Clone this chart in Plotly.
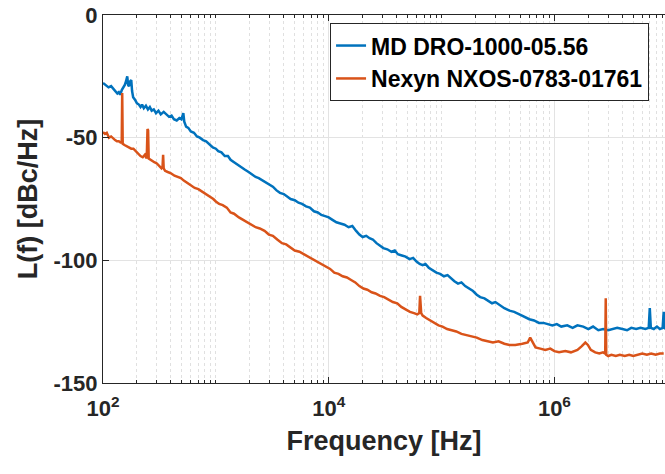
import plotly.graph_objects as go

# ---------------- data ----------------
md_freq = [100, 106, 112, 118, 123, 128, 134, 138, 142, 147, 152, 156, 160, 164, 167, 170, 174, 178, 181, 185,
           192, 200, 208, 215, 222, 230, 240, 250, 260, 270, 282, 295, 310, 325, 345, 365, 385, 405, 425, 450,
           475, 495, 505, 515, 525, 545, 570, 600, 640, 680, 720, 770, 820, 880, 940, 1000, 1050, 1120, 1200,
           1280, 1350, 1450, 1550, 1650, 1800, 1950, 2100, 2250, 2400, 2600, 2800, 3000, 3200, 3450, 3700,
           4000, 4300, 4600, 5000, 5400, 5800, 6300, 6800, 7400, 8000, 8600, 9300, 10000, 10800, 11700, 12700,
           13800, 15000, 16200, 17500, 18700, 20000, 21500, 23000, 24600, 26500, 28500, 30500, 33000, 36000,
           38500, 41000, 44500, 48000, 52000, 56000, 60000, 64000, 68000, 72000, 77000, 83000, 90000, 97000,
           105000, 113000, 122000, 130000, 140000, 150000, 162000, 175000, 190000, 205000, 220000, 240000,
           260000, 280000, 300000, 330000, 360000, 400000, 440000, 490000, 540000, 600000, 660000, 730000,
           800000, 880000, 960000, 1050000, 1150000, 1300000, 1450000, 1600000, 1800000, 2000000, 2200000,
           2450000, 2700000, 3000000, 3300000, 3600000, 4000000, 4400000, 4800000, 5300000, 5800000, 6400000,
           6850000, 7000000, 7150000, 7600000, 8100000, 8600000, 9100000, 9300000, 9450000, 9600000]
md_level = [-27.7, -28.5, -29.5, -29, -30, -30.5, -32, -31.5, -32.5, -30.5, -29.5, -28.5, -27, -25, -28.5, -29,
            -27, -26.5, -31, -33.5, -34.5, -36, -36.5, -37.5, -36.5, -38, -37, -38.5, -37.5, -39, -38.5, -40,
            -39, -40.5, -39.5, -40.5, -41.5, -41, -42.5, -43, -42, -42.5, -40.5, -40, -43.5, -45.5, -46, -47.5,
            -48, -49.5, -50, -51, -51.5, -53, -54, -54.5, -55.5, -56, -57.5, -57.5, -59, -60, -61, -62, -63, -64,
            -65, -66, -66.5, -67.5, -68.5, -69.5, -70, -71.5, -72.5, -73, -74, -75, -75.5, -76.5, -77, -78,
            -78.5, -80, -80.5, -81.5, -82, -82.5, -83.5, -84.5, -85, -85.5, -86.5, -86, -88, -89.5, -90.5, -90,
            -91, -91.5, -93, -94, -95, -95.5, -96.5, -96, -97.5, -98, -98.5, -99.5, -99, -100.5, -101.5, -102,
            -101.5, -103, -104, -105, -105.5, -106.5, -106, -107.5, -108.5, -109.5, -109, -110.5, -111.5, -112.5,
            -114, -115, -115.5, -116.5, -117.5, -117, -118.5, -119.5, -120.5, -121, -122, -123, -124, -124.5,
            -125.5, -125.5, -126, -126.5, -126, -127, -126.5, -127.5, -126.5, -127, -128, -127, -128.5, -128,
            -128.5, -128, -127.5, -128, -128.5, -127.5, -128, -127.5, -128, -127.5, -119.5, -127.5, -128, -127,
            -128, -127.5, -121, -127.5, -128]

nx_freq = [100, 104, 108, 113, 118, 123, 128, 133, 138, 143, 146.5, 148, 149.5, 155, 162, 170, 178, 186, 195,
           205, 215, 225, 235, 244, 248, 251, 254, 262, 272, 285, 300, 315, 330, 337, 341, 345, 355, 375, 400,
           430, 460, 490, 520, 560, 600, 650, 700, 760, 820, 880, 950, 1000, 1070, 1150, 1250, 1350, 1450, 1600,
           1750, 1900, 2050, 2250, 2450, 2700, 2950, 3200, 3500, 3850, 4200, 4600, 5000, 5500, 6000, 6600, 7200,
           7900, 8700, 9500, 10300, 11200, 12200, 13300, 14500, 15800, 17200, 18700, 20300, 22000, 24000, 26000,
           28500, 31000, 34000, 37000, 40500, 44000, 48000, 52500, 57000, 61000, 63500, 64500, 66000, 68000,
           73000, 79000, 86000, 94000, 102000, 112000, 123000, 135000, 150000, 165000, 185000, 205000, 230000,
           255000, 285000, 320000, 360000, 400000, 450000, 520000, 580000, 610000, 640000, 680000, 750000,
           830000, 920000, 1000000, 1100000, 1250000, 1400000, 1600000, 1750000, 1880000, 1980000, 2100000,
           2300000, 2500000, 2700000, 2820000, 2850000, 2880000, 3000000, 3200000, 3500000, 3800000, 4200000,
           4600000, 5000000, 5500000, 6000000, 6600000, 7200000, 7900000, 8600000, 9300000, 9600000]
nx_level = [-47.7, -48.5, -48, -50, -49.5, -50.5, -51, -51.5, -51.5, -52, -52, -31.8, -52.5, -53, -53.5, -54,
            -54.5, -54.5, -55.5, -56.5, -57.5, -58, -57, -58.5, -46.5, -47, -58.5, -59, -59.5, -60, -60.5, -61.5,
            -62.5, -62, -57, -62.5, -63.5, -64, -64.5, -65.5, -66, -66.5, -67.5, -68.5, -69.5, -70.5, -71, -72,
            -73, -74, -75, -76, -77, -77.5, -78.5, -80.5, -81, -82.5, -83.5, -84.5, -85.5, -86.5, -87, -88, -89.5,
            -90, -91.5, -93, -93.5, -95, -96, -96.5, -97.5, -98.5, -99.5, -100.5, -101.5, -102.5, -103.5, -105,
            -105.5, -106.5, -107, -108, -109, -110.5, -111.5, -112, -113, -113.5, -114.5, -115, -116, -117,
            -117.5, -119, -120, -121, -121.5, -122, -121.5, -114.5, -121.5, -122.5, -123.5, -124.5, -125.5,
            -126.5, -127, -128, -128.5, -129, -130, -130.5, -131, -131.5, -132.5, -133, -133.5, -133, -134,
            -134.5, -134.5, -134, -133.5, -131.5, -133.5, -135.5, -136, -136.5, -136, -137, -137.5, -137, -137.5,
            -136.5, -135, -133.5, -134.5, -136.5, -137.5, -138, -137.5, -138, -115.5, -138.5, -139, -138.5, -139,
            -138.5, -139, -138.5, -139, -138.5, -138, -138.5, -138, -138.5, -138, -138]

series_names = ["MD DRO-1000-05.56", "Nexyn NXOS-0783-01761"]
series_colors = ["#0072BD", "#D95319"]

x_major_ticks = [1e2, 1e4, 1e6]
x_major_text = ["10<sup>2</sup>", "10<sup>4</sup>", "10<sup>6</sup>"]
y_ticks = [-150, -100, -50, 0]
y_text = ["-150", "-100", "-50", "0"]

# ---------------- figure ----------------
FONT = "Liberation Sans, Arial, sans-serif"
AX = "#262626"

fig = go.Figure()
for f, lv, name, col in zip([md_freq, nx_freq], [md_level, nx_level], series_names, series_colors):
    fig.add_trace(go.Scatter(x=f, y=lv, mode="lines", name=name,
                             line=dict(color=col, width=2.5)))

minor_vals = [k * 10 ** d for d in range(2, 7) for k in range(2, 11) if k * 10 ** d not in x_major_ticks]

fig.update_xaxes(
    type="log", range=[2, 6.98],
    tickmode="array", tickvals=x_major_ticks, ticktext=x_major_text,
    tickfont=dict(family=FONT, size=22, color=AX, weight="bold"),
    ticklabelstandoff=6,
    ticks="inside", ticklen=6, tickcolor=AX, tickwidth=1,
    showline=True, linecolor=AX, linewidth=1, mirror="allticks",
    showgrid=True, gridcolor="#e3e3e3", gridwidth=1,
    minor=dict(tickmode="array", tickvals=minor_vals, ticks="inside", ticklen=3, tickcolor=AX,
               showgrid=True, gridcolor="#e0e0e0", griddash="dot", gridwidth=1),
    title=dict(text="Frequency [Hz]", font=dict(family=FONT, size=27, color=AX, weight="bold"), standoff=10),
    zeroline=False,
)
fig.update_yaxes(
    range=[-150, 0],
    tickmode="array", tickvals=y_ticks, ticktext=y_text,
    tickfont=dict(family=FONT, size=22, color=AX, weight="bold"),
    ticks="inside", ticklen=6, tickcolor=AX, tickwidth=1,
    showline=True, linecolor=AX, linewidth=1, mirror=False,
    showgrid=True, gridcolor="#e3e3e3", gridwidth=1,
    title=dict(text="L(f) [dBc/Hz]", font=dict(family=FONT, size=27, color=AX, weight="bold"), standoff=8),
    zeroline=False,
)

fig.update_layout(
    width=665, height=474,
    margin=dict(l=103, r=0, t=15, b=91),
    plot_bgcolor="white", paper_bgcolor="white",
    showlegend=True,
    legend=dict(x=0.404, y=0.978, xanchor="left", yanchor="top",
                bgcolor="white", bordercolor="#262626", borderwidth=1,
                font=dict(family=FONT, size=23, color="black", weight="bold"),
                tracegroupgap=0),
)

fig.write_html("out.html")
